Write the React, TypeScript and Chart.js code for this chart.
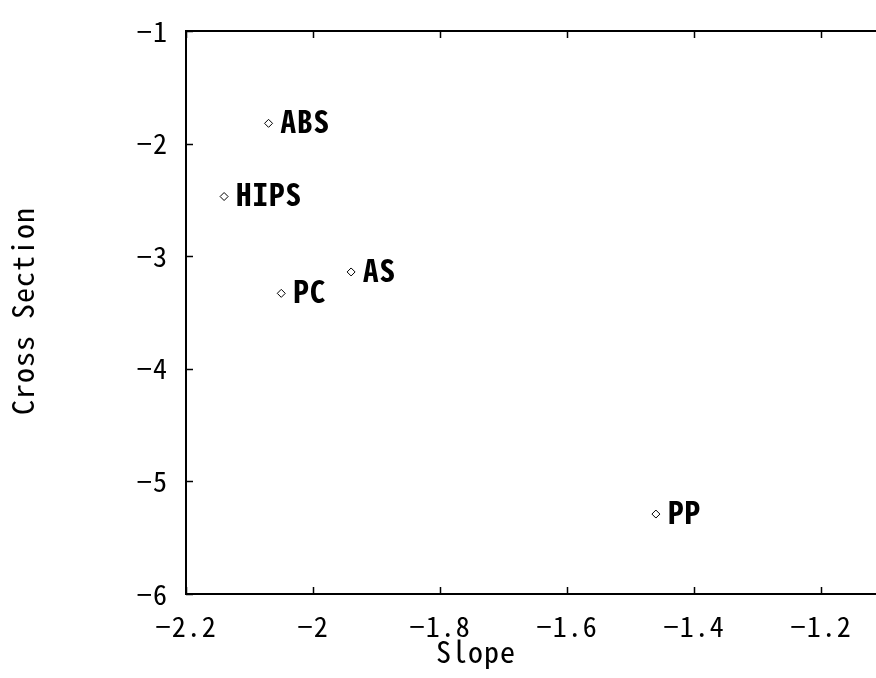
import React, { useEffect, useRef } from "react";
import { Chart, registerables } from "chart.js";

Chart.register(...registerables);

// Material fingerprints: slope vs. cross section
const materials = ["ABS", "HIPS", "AS", "PC", "PP"];
const slopeValues = [-2.07, -2.14, -1.94, -2.05, -1.46];
const crossSectionValues = [-1.82, -2.47, -3.14, -3.33, -5.29];
const xTickValues = [-2.2, -2, -1.8, -1.6, -1.4, -1.2, -1];
const yTickValues = [-6, -5, -4, -3, -2, -1];

const FONT = '"Noto Sans Mono CJK JP", "DejaVu Sans Mono", monospace';

const fmt = (v: number) => {
  const s = String(Number(v.toFixed(1)));
  return s.replace("-", "\u2212");
};

const framePlugin = {
  id: "frame",
  beforeDraw(chart: any) {
    (chart.ctx as any).letterSpacing = "1px";
  },
  afterDraw(chart: any) {
    const { ctx, chartArea: a, scales } = chart;
    ctx.save();
    ctx.strokeStyle = "#000";
    ctx.lineWidth = 2;
    ctx.strokeRect(a.left, a.top, a.right - a.left, a.bottom - a.top);

    // inward tick marks on all four sides
    ctx.lineWidth = 1.5;
    const tick = 7;
    ctx.beginPath();
    scales.x.ticks.forEach((t: any) => {
      const px = Math.round(scales.x.getPixelForValue(t.value)) + 0.5;
      ctx.moveTo(px, a.bottom);
      ctx.lineTo(px, a.bottom - tick);
      ctx.moveTo(px, a.top);
      ctx.lineTo(px, a.top + tick);
    });
    scales.y.ticks.forEach((t: any) => {
      const py = Math.round(scales.y.getPixelForValue(t.value)) + 0.5;
      ctx.moveTo(a.left, py);
      ctx.lineTo(a.left + tick, py);
      ctx.moveTo(a.right, py);
      ctx.lineTo(a.right - tick, py);
    });
    ctx.stroke();

    // point labels
    ctx.fillStyle = "#000";
    ctx.font = `bold 31px ${FONT}`;
    (ctx as any).letterSpacing = "1px";
    ctx.textAlign = "left";
    ctx.textBaseline = "middle";
    const meta = chart.getDatasetMeta(0);
    meta.data.forEach((el: any, i: number) => {
      ctx.fillText(materials[i], el.x + 12, el.y - 2);
    });

    // axis titles
    ctx.font = `30px ${FONT}`;
    ctx.textAlign = "center";
    ctx.textBaseline = "middle";
    (ctx as any).letterSpacing = "1px";
    ctx.fillText("Slope", 476, 652);
    ctx.translate(23, 311);
    ctx.rotate(-Math.PI / 2);
    ctx.fillText("Cross Section", 0, 0);
    ctx.restore();
  },
};

export default function App() {
  const ref = useRef<HTMLCanvasElement>(null);

  useEffect(() => {
    if (!ref.current) return;
    const chart = new Chart(ref.current, {
      type: "scatter",
      data: {
        datasets: [
          {
            label: "Materials",
            data: slopeValues.map((x, i) => ({ x, y: crossSectionValues[i] })),
            pointStyle: "rectRot",
            pointRadius: 4,
            pointBorderWidth: 1,
            pointBackgroundColor: "#fff",
            pointBorderColor: "#000",
          },
        ],
      },
      options: {
        animation: false,
        responsive: false,
        layout: { autoPadding: false, padding: { left: 0, top: 31, right: 12, bottom: 0 } },
        plugins: { legend: { display: false }, tooltip: { enabled: false } },
        scales: {
          x: {
            type: "linear",
            min: -2.2,
            max: -1,
            grid: { display: false, drawTicks: false },
            border: { display: false },
            afterBuildTicks: (s: any) => {
              s.ticks = xTickValues.map((value) => ({ value }));
            },
            afterFit: (s: any) => {
              s.height = 84;
              s.paddingLeft = 0;
              s.paddingRight = 0;
            },
            ticks: {
              color: "#000",
              padding: 16,
              maxRotation: 0,
              autoSkip: false,
              font: { family: FONT, size: 28 },
              callback: (v: any) => fmt(Number(v)),
            },
          },
          y: {
            type: "linear",
            min: -6,
            max: -1,
            grid: { display: false, drawTicks: false },
            border: { display: false },
            afterBuildTicks: (s: any) => {
              s.ticks = yTickValues.map((value) => ({ value }));
            },
            afterFit: (s: any) => {
              s.width = 186;
              s.paddingTop = 0;
              s.paddingBottom = 0;
            },
            ticks: {
              color: "#000",
              padding: 18,
              autoSkip: false,
              font: { family: FONT, size: 28 },
              callback: (v: any) => fmt(Number(v)),
            },
          },
        },
      },
      plugins: [framePlugin],
    });
    return () => chart.destroy();
  }, []);

  return (
    <div
      style={{
        position: "fixed",
        left: 0,
        top: 0,
        width: 876,
        height: 678,
        overflow: "hidden",
        background: "#fff",
      }}
    >
      <canvas ref={ref} width={960} height={678} style={{ display: "block" }} />
    </div>
  );
}
